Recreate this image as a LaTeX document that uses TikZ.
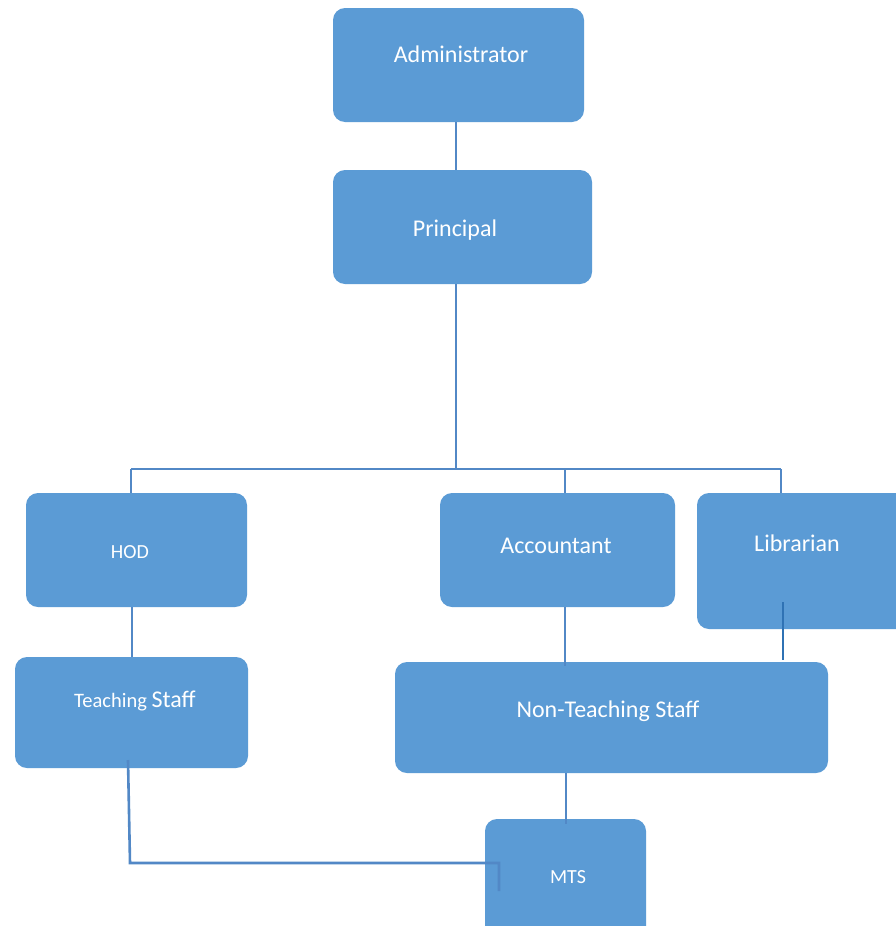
\documentclass[tikz,border=0pt]{standalone}
\usepackage{fontspec}
\setmainfont{Carlito}
\definecolor{boxfill}{HTML}{5B9BD5}
\definecolor{linecol}{HTML}{5288C6}
\definecolor{darkline}{HTML}{2F72B4}
\tikzset{
  box/.style={rectangle, fill=boxfill, rounded corners=12pt, inner sep=0pt},
  lbl/.style={text=white, inner sep=0pt, anchor=center},
  conn/.style={draw=linecol, line width=2.6pt},
  dconn/.style={draw=darkline, line width=2.8pt},
}
\begin{document}
\begin{tikzpicture}[x=1pt,y=-1pt]
\useasboundingbox (0,0) rectangle (895,926);
\fill[white] (0,0) rectangle (895,926);
% boxes
\node[box, minimum width=251pt, minimum height=114pt] (adm) at (458.5,65) {};
\node[box, minimum width=259pt, minimum height=114pt] (pri) at (462.5,227) {};
\node[box, minimum width=221pt, minimum height=114pt] (hod) at (136.5,550) {};
\node[box, minimum width=235pt, minimum height=114pt] (acc) at (557.5,550) {};
\node[box, minimum width=238pt, minimum height=136pt] (lib) at (816,561) {};
\node[box, minimum width=233pt, minimum height=111pt] (tea) at (131.5,712.5) {};
\node[box, minimum width=433pt, minimum height=111pt] (non) at (611.5,717.5) {};
\node[box, minimum width=161pt, minimum height=131pt] (mts) at (565.5,884.5) {};
% labels
\node[lbl, font=\fontsize{24}{28}\selectfont] (tadm) at (461,54) {Administrator};
\node[lbl, font=\fontsize{24}{28}\selectfont] (tpri) at (455,230) {Principal};
\node[lbl, font=\fontsize{20}{24}\selectfont] (thod) at (130,552) {HOD};
\node[lbl, font=\fontsize{24}{28}\selectfont] (tacc) at (556,546) {Accountant};
\node[lbl, font=\fontsize{24}{28}\selectfont] (tlib) at (797,543) {Librarian};
\node[lbl] (ttea) at (135,701) {\fontsize{20.5}{24}\selectfont Teaching \fontsize{24}{28}\selectfont Staff};
\node[lbl, font=\fontsize{24}{28}\selectfont] (tnon) at (608,711) {Non-Teaching Staff};
\node[lbl, font=\fontsize{20}{24}\selectfont] (tmts) at (568,877) {MTS};
% connector coordinates
\coordinate (cx) at (456,0);
\coordinate (bus) at (456,469);
\coordinate (busl) at (131,469);
\coordinate (busa) at (565,469);
\coordinate (busr) at (781,469);
\coordinate (tstart) at (128,760);
\coordinate (tcorner) at (130,863);
\coordinate (mcorner) at (499,863);
\coordinate (mend) at (499,891);
\coordinate (lstart) at (783,602);
\coordinate (lend) at (783,660);
% connectors
\draw[conn] (adm.south -| cx) -- (pri.north -| cx);
\draw[conn] (pri.south -| cx) -- (bus);
\draw[conn] (busl) -- (busr);
\draw[conn] (busl) -- (hod.north -| busl);
\draw[conn] (busa) -- (acc.north -| busa);
\draw[conn] (busr) -- (lib.north -| busr);
\draw[conn] (hod.south -| 132,0) -- (tea.north -| 132,0);
\draw[conn] (acc.south -| busa) -- ([yshift=-4pt]non.north -| busa);
\draw[dconn] (lstart) -- (lend);
\draw[conn] (non.south -| 566,0) -- ([yshift=-5pt]mts.north -| 566,0);
\draw[conn] (tstart) -- (tcorner) -- (mcorner) -- (mend);
\end{tikzpicture}
\end{document}
